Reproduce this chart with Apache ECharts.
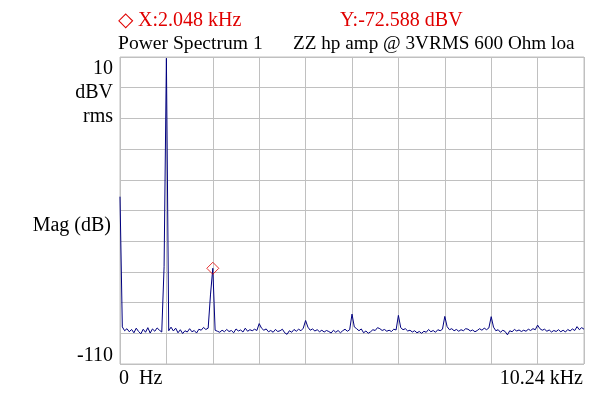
<!DOCTYPE html>
<html><head><meta charset="utf-8">
<script src="https://cdn.jsdelivr.net/npm/echarts@6/dist/echarts.min.js"></script>
<style>html,body{margin:0;padding:0;background:#fff}#c{width:600px;height:397px}</style>
</head><body><div id="c"></div>
<script>
// ---- data ----
const freqStepHz = 51.2;            // bin spacing, 201 bins over 0..10.24 kHz
const magDbv = [
  -44.6, -95.5, -97.0, -96.2, -97.4, -96.5, -97.8, -96.0, -97.3, -98.2,
  -96.4, -97.6, -95.8, -97.9, -96.3, -97.2, -95.9, -96.8, -97.5, -72.0,
    9.5, -97.0, -95.6, -97.1, -96.0, -97.8, -96.6, -98.1, -97.0, -97.5,
  -96.2, -97.4, -96.9, -97.9, -96.4, -96.8, -95.7, -96.5, -96.0, -83.0,
  -72.588, -96.8, -97.2, -97.6, -96.8, -97.4, -96.5, -97.3, -96.9, -97.8,
  -96.3, -97.1, -96.7, -97.5, -96.0, -97.2, -96.6, -97.0, -96.4, -96.9,
  -94.2, -96.0, -96.8, -96.3, -97.4, -96.9, -97.6, -96.5, -97.3, -97.0,
  -96.4, -97.8, -98.4, -97.0, -97.6, -96.5, -97.2, -96.4, -97.0, -96.0,
  -93.0, -95.6, -96.8, -96.3, -97.1, -96.6, -97.4, -96.8, -97.5, -96.9,
  -97.3, -97.9, -96.8, -97.6, -96.9, -97.8, -97.0, -96.4, -97.2, -96.6,
  -90.5, -95.5, -96.2, -97.0, -96.3, -97.8, -97.1, -98.0, -97.4, -96.6,
  -96.9, -95.8, -96.2, -96.9, -96.5, -97.2, -96.8, -97.3, -96.4, -96.7,
  -91.0, -95.8, -96.6, -96.2, -97.1, -96.8, -97.5, -97.0, -97.8, -97.3,
  -98.0, -97.2, -97.6, -96.5, -97.4, -96.9, -97.6, -96.6, -97.0, -96.4,
  -91.4, -95.4, -96.6, -96.2, -97.0, -96.5, -97.2, -96.6, -97.0, -96.2,
  -96.4, -97.1, -96.7, -97.4, -96.9, -96.2, -96.8, -96.0, -96.6, -95.9,
  -91.5, -95.6, -97.0, -96.6, -97.6, -96.8, -97.3, -98.6, -97.0, -97.4,
  -96.5, -97.1, -96.7, -97.3, -96.8, -97.2, -96.4, -96.9, -96.2, -96.6,
  -94.8, -96.2, -96.8, -96.4, -97.2, -96.7, -97.5, -96.9, -97.3, -96.6,
  -97.4, -96.8, -97.5, -96.5, -97.1, -96.3, -96.9, -95.4, -96.6, -95.8,
  -96.4
];
const markerFreqHz = 2048;
const markerMagDbv = -72.588;
const yMinDbv = -110, yMaxDbv = 10, yStepDb = 12;
const xMaxHz = 10240, xStepHz = 1024;
const yTickLabels = ['10', '-110'];
const yUnitLabels = ['dBV', 'rms'];
const yAxisName = 'Mag (dB)';
const xTickLabels = ['0  Hz', '10.24 kHz'];
const titleLeft = 'Power Spectrum 1';
const titleRight = 'ZZ hp amp @ 3VRMS 600 Ohm loa';

// ---- build ----
const lineData = magDbv.map((v, i) => [i * freqStepHz, v - yMinDbv]);
const cursorX = '\u25C7 X:' + (markerFreqHz / 1000).toFixed(3) + ' kHz';
const cursorY = 'Y:' + markerMagDbv.toFixed(3) + ' dBV';

const FAMILY = '"Liberation Serif", "Times New Roman", serif';
const FONT = '20px ' + FAMILY;
const RED = '#e00000';
const GRIDC = '#c0c0c0';
function txt(text, x, y, align, fill, font) {
  return { type: 'text', x: x, y: y, silent: true,
    style: { text: text, font: font || FONT, fill: fill || '#000', align: align, verticalAlign: 'middle' } };
}

const chart = echarts.init(document.getElementById('c'), null, { renderer: 'canvas' });
chart.setOption({
  animation: false,
  backgroundColor: '#fff',
  grid: { left: 120, top: 57, width: 464, height: 307, show: true, borderColor: GRIDC, borderWidth: 1, containLabel: false },
  xAxis: {
    type: 'value', min: 0, max: xMaxHz, interval: xStepHz,
    axisLine: { show: false }, axisTick: { show: false }, axisLabel: { show: false },
    splitLine: { show: true, lineStyle: { color: GRIDC, width: 1 } }
  },
  yAxis: {
    type: 'value', min: 0, max: yMaxDbv - yMinDbv, interval: yStepDb,
    axisLine: { show: false }, axisTick: { show: false }, axisLabel: { show: false },
    splitLine: { show: true, lineStyle: { color: GRIDC, width: 1 } }
  },
  series: [
    { type: 'line', data: lineData, symbol: 'none', clip: true,
      lineStyle: { color: '#000080', width: 1 }, z: 3 },
    { type: 'scatter', data: [[markerFreqHz, markerMagDbv - yMinDbv]], symbol: 'diamond', symbolSize: 12,
      itemStyle: { color: 'rgba(0,0,0,0)', borderColor: RED, borderWidth: 1 }, z: 4 }
  ],
  graphic: [
    txt(cursorX, 118, 20.5, 'left', RED),
    txt(cursorY, 340, 20.5, 'left', RED),
    txt(titleLeft, 118, 44, 'left', '#000', '19.6px ' + FAMILY),
    txt(titleRight, 293, 44, 'left', '#000', '19.2px ' + FAMILY),
    txt(yTickLabels[0], 113, 69, 'right'),
    txt(yUnitLabels[0], 113, 93, 'right'),
    txt(yUnitLabels[1], 113, 117, 'right'),
    txt(yAxisName, 111, 225.5, 'right'),
    txt(yTickLabels[1], 113, 355.5, 'right'),
    txt(xTickLabels[0], 119, 378.5, 'left'),
    txt(xTickLabels[1], 583, 378.5, 'right')
  ]
});
</script></body></html>
